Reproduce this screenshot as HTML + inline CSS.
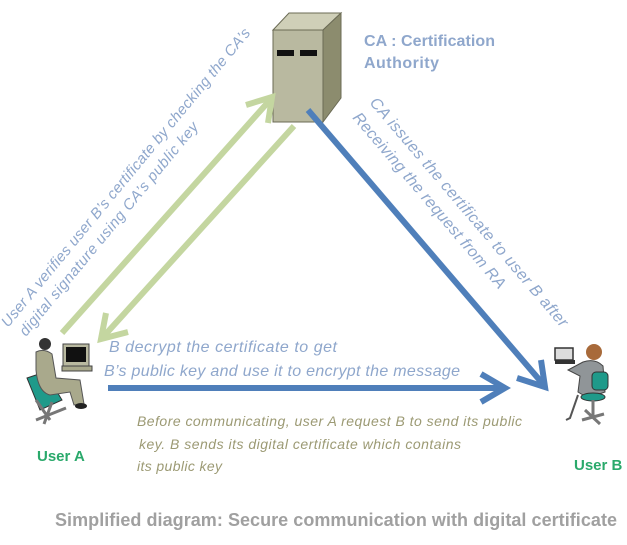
<!DOCTYPE html>
<html><head><meta charset="utf-8"><style>
html,body{margin:0;padding:0;background:#fff;width:627px;height:545px;overflow:hidden}
svg{display:block}
text{font-family:"Liberation Sans","DejaVu Sans",sans-serif}
.it{font-style:italic;fill:#8fa7cc}
</style></head><body>
<svg width="627" height="545" viewBox="0 0 627 545">
<!-- server -->
<polygon points="273,30 289,13 341,13 323,30" fill="#cfcfb8" stroke="#6b6b55" stroke-width="1"/>
<polygon points="323,30 341,13 341,98 323,122" fill="#8c8c6e" stroke="#6b6b55" stroke-width="1"/>
<rect x="273" y="30" width="50" height="92" fill="#b9b9a0" stroke="#6b6b55" stroke-width="1"/>
<rect x="277" y="50" width="17" height="6" fill="#111"/>
<rect x="300" y="50" width="17" height="6" fill="#111"/>
<text x="364" y="46" font-size="16" font-weight="bold" fill="#8fa7cc" textLength="131">CA : Certification</text>
<text x="364" y="68" font-size="16" font-weight="bold" fill="#8fa7cc" textLength="75">Authority</text>

<!-- green arrows -->
<g stroke="#c4d6a0" stroke-width="6" fill="none" stroke-linecap="butt">
<line x1="62" y1="333" x2="270" y2="100"/>
<polyline points="246,105 272,97 268,123"/>
<line x1="294" y1="126" x2="104" y2="336"/>
<polyline points="128,332 101,339 106,313"/>
</g>
<!-- blue arrows -->
<g stroke="#4f7fba" stroke-width="6" fill="none">
<line x1="308" y1="110" x2="543" y2="384"/>
<polyline points="517,378 545,387 541,360"/>
<line x1="108" y1="388" x2="503" y2="388"/>
<polyline points="481,374 505,388 481,402"/>
</g>

<!-- rotated texts -->
<text class="it" font-size="15" transform="translate(8,328) rotate(-50.5)" textLength="382">User A verifies  user   B’s certificate  by checking the CA’s</text>
<text class="it" font-size="15" transform="translate(26,337) rotate(-50.5)" textLength="272">digital signature using  CA’s public key</text>
<text class="it" font-size="16" transform="translate(369,103) rotate(49.5)" textLength="296">CA issues the certificate to user B after</text>
<text class="it" font-size="16" transform="translate(352,118) rotate(49.5)" textLength="226">Receiving the request from RA</text>

<text class="it" font-size="16" x="109" y="352" textLength="228">B decrypt the certificate to get</text>
<text class="it" font-size="16" x="104" y="376" textLength="356">B’s public key and use it to encrypt the message</text>
<g font-size="14" font-style="italic" fill="#9c9a74">
<text x="137" y="426" textLength="385">Before communicating, user A request B to send its public</text>
<text x="139" y="449" textLength="322">key. B sends its digital certificate which contains</text>
<text x="137" y="471" textLength="85">its public key</text>
</g>
<text x="37" y="461" font-size="15" font-weight="bold" fill="#2aa96b">User A</text>
<text x="574" y="470" font-size="15" font-weight="bold" fill="#2aa96b">User B</text>
<text x="55" y="526" font-size="18" font-weight="bold" fill="#a0a0a0" textLength="562">Simplified diagram: Secure communication with digital certificate</text>

<!-- user A figure -->
<g>
<polygon points="27,378 45,372 62,400 40,410" fill="#1f9a8a" stroke="#333" stroke-width="1"/>
<path d="M36,400 L50,420 M36,420 L66,408 M44,424 L52,402" stroke="#777" stroke-width="3"/>
<circle cx="45" cy="344" r="6" fill="#333"/>
<path d="M36,352 Q44,348 52,354 L56,378 L80,380 L84,404 L74,405 L70,392 L50,395 Q38,392 36,370 Z" fill="#a9a98c" stroke="#555" stroke-width="1"/>
<rect x="63" y="344" width="26" height="22" fill="#b9b9a0" stroke="#444"/>
<rect x="66" y="347" width="20" height="15" fill="#111"/>
<rect x="62" y="366" width="30" height="5" fill="#a9a98c" stroke="#444"/>
<ellipse cx="81" cy="406" rx="6" ry="3" fill="#222"/>
</g>
<!-- user B figure -->
<g>
<circle cx="594" cy="352" r="8" fill="#a86a3a"/>
<rect x="555" y="348" width="18" height="12" fill="#ddd" stroke="#333" stroke-width="1.5"/>
<rect x="555" y="360" width="20" height="4" fill="#333"/>
<path d="M583,362 Q595,358 603,366 L605,392 L588,398 L578,392 L580,376 L568,370 Z" fill="#909598" stroke="#444" stroke-width="1"/>
<rect x="592" y="372" width="16" height="18" rx="4" fill="#1f9a8a" stroke="#333"/>
<ellipse cx="593" cy="397" rx="12" ry="4" fill="#1f9a8a" stroke="#333"/>
<path d="M593,400 L593,418 M582,420 L604,414 M585,410 L600,424" stroke="#777" stroke-width="3"/>
<path d="M578,395 L570,418 L566,420" stroke="#555" stroke-width="2" fill="none"/>
</g>
</svg>
</body></html>
